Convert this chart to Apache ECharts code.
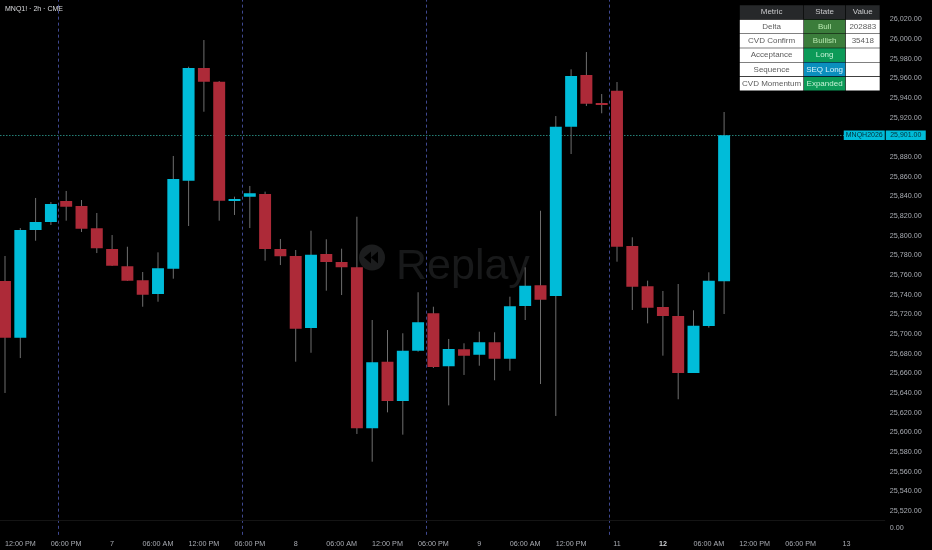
<!DOCTYPE html>
<html>
<head>
<meta charset="utf-8">
<style>html,body{margin:0;padding:0;background:#000}#c{width:932px;height:550px}</style>
<script src="https://cdn.jsdelivr.net/npm/echarts@6/dist/echarts.min.js"></script>
</head>
<body>
<div id="c"></div>
<script>
const opens = [25752.9,25695.2,25804.7,25812.8,25834.2,25829.1,25806.4,25785.4,25767.8,25753.6,
25739.6,25765.4,25854.8,25969.5,25955.5,25834.2,25838.6,25841.3,25785.4,25778.3,
25705.1,25780.3,25772.2,25766.8,25603.1,25670.8,25630.8,25682,25720,25666.1,
25683.4,25677.9,25690.5,25673.8,25727.4,25748.5,25737.6,25909.8,25962.3,25933.9,
25946.4,25788.4,25747.5,25726.4,25717.3,25659.3,25707.1,25752.6];
const closes = [25695.2,25804.7,25812.8,25831.2,25828.4,25806,25786.1,25768.4,25753.2,25738.9,
25765.8,25856.6,25969.5,25955.5,25834.5,25836.2,25842,25785.4,25778,25704.3,
25779.6,25772.2,25766.8,25603.1,25670.2,25630.8,25682,25710.9,25665.4,25683.7,
25676.9,25690.5,25673.8,25727.1,25748.1,25733.8,25909.8,25961.3,25933.1,25931.8,
25787.7,25747.1,25725.7,25717.3,25659.3,25707.4,25753.2,25901];
const lows = [25639,25674.5,25793.8,25809.8,25814.2,25802.7,25781.3,25768.1,25752.9,25726.7,
25731.8,25755.2,25808.8,25925,25814.2,25820,25806.7,25773.5,25769.1,25670.8,
25679.9,25743,25738.6,25597.3,25569.1,25619.3,25596.6,25681,25664.4,25626.4,
25657.3,25666.7,25651.9,25661.6,25713.2,25648.1,25615.6,25882,25930.8,25923.4,
25772.5,25723.4,25709.8,25676.9,25632.6,25659.3,25705.4,25719.3];
const highs = [25778.3,25806.7,25837.3,25833.2,25844.4,25835.2,25822,25799.6,25787.7,25762,
25782,25880,25970.8,25997.9,25956.2,25838.6,25849.5,25843.7,25795.6,25784.4,
25804,25795.3,25785.7,25818.2,25713.2,25703,25699.7,25741.4,25726.7,25693.9,
25689.5,25701.3,25700.7,25736.9,25766.8,25824.3,25920.6,25968.1,25985.7,25943,
25955.2,25797.3,25753.2,25742.7,25749.8,25723.1,25761.7,25924.7];
const timeLabels = ['','12:00 PM','','','06:00 PM','','','7','','','06:00 AM','','','12:00 PM','','','06:00 PM','','','8','',
'','06:00 AM','','','12:00 PM','','','06:00 PM','','','9','','','06:00 AM','','','12:00 PM','','','11','','','12','','',
'06:00 AM','','','12:00 PM','','','06:00 PM','','','13','',''];
const sessionStarts = [4,16,28,40];
const lastPrice = 25901;
const tableHeader = ['Metric','State','Value'];
const metrics = ['Delta','CVD Confirm','Acceptance','Sequence','CVD Momentum'];
const states = ['Bull','Bullish','Long','SEQ Long','Expanded'];
const values = ['202883','35418','','',''];

const stateFill = ['#3b7d3b','#3b7d3b','#0c9a58','#0a8fbe','#0c9a58'];
const stateInk = ['#b7e8b0','#b7e8b0','#c5f2d6','#d8f3fb','#c5f2d6'];
const UP = '#00bcd9', DOWN = '#ad2a38', WICK = '#6e6e6e';
const AXIS_TEXT = '#a9acb3', FONT = '"Liberation Sans", Arial, sans-serif';

const candles = opens.map((o, i) => [i, o, closes[i], lows[i], highs[i]]);

function renderCandle(params, api) {
  const i = api.value(0), o = api.value(1), c = api.value(2), l = api.value(3), h = api.value(4);
  const po = api.coord([i, o]), pc = api.coord([i, c]), pl = api.coord([i, l]), ph = api.coord([i, h]);
  const w = api.size([1, 0])[0] * 0.78;
  const top = Math.min(po[1], pc[1]), height = Math.max(Math.abs(po[1] - pc[1]), 1);
  return { type: 'group', children: [
    { type: 'line', shape: { x1: po[0], y1: ph[1], x2: po[0], y2: pl[1] }, style: { stroke: WICK, lineWidth: 1 } },
    { type: 'rect', shape: { x: po[0] - w / 2, y: top, width: w, height: height }, style: { fill: c >= o ? UP : DOWN } }
  ]};
}

// table
const tx = [739.5, 803.7, 845.5, 880], ty = 5, rh0 = 14.4, rh = 14.3;
const gfx = [];
function cell(x0, x1, y0, y1, fill, text, ink) {
  gfx.push({ type: 'rect', z: 100, silent: true, shape: { x: x0 + 0.3, y: y0 + 0.3, width: x1 - x0 - 0.6, height: y1 - y0 - 0.6 }, style: { fill } });
  if (text) gfx.push({ type: 'text', z: 101, silent: true, x: (x0 + x1) / 2, y: (y0 + y1) / 2, style: { text, fill: ink, font: '8px ' + FONT, align: 'center', verticalAlign: 'middle' } });
}
tableHeader.forEach((t, c) => cell(tx[c], tx[c + 1], ty, ty + rh0, '#26282a', t, '#c9cacc'));
metrics.forEach((m, r) => {
  const y0 = ty + rh0 + r * rh, y1 = y0 + rh;
  cell(tx[0], tx[1], y0, y1, '#ffffff', m, '#5c5c5c');
  cell(tx[1], tx[2], y0, y1, stateFill[r], states[r], stateInk[r]);
  cell(tx[2], tx[3], y0, y1, '#ffffff', values[r], '#5c5c5c');
});
// replay watermark
gfx.push({ type: 'circle', z: -1, silent: true, shape: { cx: 372, cy: 257.5, r: 13 }, style: { fill: '#1c1d1e' } });
gfx.push({ type: 'polygon', z: -1, silent: true, shape: { points: [[371, 251.5], [371, 263.5], [364, 257.5]] }, style: { fill: '#000' } });
gfx.push({ type: 'polygon', z: -1, silent: true, shape: { points: [[378, 251.5], [378, 263.5], [371, 257.5]] }, style: { fill: '#000' } });
gfx.push({ type: 'text', z: -1, silent: true, x: 396, y: 267, style: { text: 'Replay', fill: '#18191a', font: '43px ' + FONT, align: 'left', verticalAlign: 'middle' } });

const split = { show: true, showMaxLine: false, interval: (i) => sessionStarts.includes(i), lineStyle: { color: '#3f4890', type: [3, 3], width: 1 } };
const chart = echarts.init(document.getElementById('c'), null, { renderer: 'canvas' });
chart.setOption({
  animation: false,
  backgroundColor: '#000',
  title: { text: 'MNQ1! · 2h · CME', left: 5, top: 5.5, padding: 0, textStyle: { color: '#dcdde0', fontSize: 7, fontWeight: 'normal', fontFamily: FONT } },
  grid: [
    { left: -2.65, width: 887.4, top: -1.37, height: 521.2, show: false, outerBoundsMode: 'none', containLabel: false },
    { left: -2.65, width: 887.4, top: 519.83, height: 15.2, show: false, outerBoundsMode: 'none', containLabel: false }
  ],
  xAxis: [
    { type: 'category', gridIndex: 0, data: timeLabels, position: 'bottom',
      axisLine: { show: true, lineStyle: { color: '#141414', width: 1 } }, axisTick: { show: false }, axisLabel: { show: false }, splitLine: split },
    { type: 'category', gridIndex: 1, data: timeLabels, position: 'bottom',
      axisLine: { show: false }, axisTick: { show: false }, splitLine: split,
      axisLabel: { show: true, interval: 0, margin: 5, color: AXIS_TEXT, fontSize: 7.2, fontFamily: FONT,
        hideOverlap: false,
        formatter: (v) => v === '12' ? '{b|12}' : v,
        rich: { b: { fontWeight: 'bold', fontSize: 7.2, color: '#d0d2d6', fontFamily: FONT } } } }
  ],
  yAxis: [
    { type: 'value', gridIndex: 0, position: 'right', min: 25510, max: 26040, interval: 10, scale: true,
      axisLine: { show: false }, axisTick: { show: false }, splitLine: { show: false },
      axisLabel: { margin: 5, color: AXIS_TEXT, fontSize: 7.2, fontFamily: FONT, align: 'left', showMinLabel: false, showMaxLabel: false,
        formatter: (v) => (v % 20 === 0) ? '{p|' + v.toLocaleString('en-US', { minimumFractionDigits: 2, maximumFractionDigits: 2 }) + '}' : '',
        rich: { p: { fontSize: 7.2, color: AXIS_TEXT, fontFamily: FONT, padding: [2, 0, 0, 0] } } } },
    { type: 'value', gridIndex: 1, position: 'right', min: -1, max: 1.3, interval: 1,
      axisLine: { show: false }, axisTick: { show: false }, splitLine: { show: false },
      axisLabel: { margin: 5, color: AXIS_TEXT, fontSize: 7.2, fontFamily: FONT, align: 'left', showMaxLabel: false,
        formatter: (v) => v === 0 ? '0.00' : '' } }
  ],
  graphic: { elements: gfx },
  series: [{
    type: 'custom', name: 'MNQ1!', xAxisIndex: 0, yAxisIndex: 0, z: 2, clip: true,
    renderItem: renderCandle,
    encode: { x: 0, y: [1, 2, 3, 4] },
    data: candles,
    markLine: {
      silent: true, symbol: 'none', animation: false, z: 1,
      lineStyle: { color: '#38c0b4', type: [1, 2], width: 1 },
      label: { show: true, position: 'end', distance: 0, offset: [-41, 0],
        formatter: () => '{a|MNQH2026}{g|}{b|' + lastPrice.toLocaleString('en-US', { minimumFractionDigits: 2 }) + '}',
        rich: {
          a: { width: 41, height: 9.5, align: 'center', backgroundColor: UP, color: '#04303a', fontSize: 7, fontFamily: FONT },
          g: { width: 1, height: 9.5 },
          b: { width: 40, height: 9.5, align: 'center', backgroundColor: UP, color: '#04303a', fontSize: 7, fontFamily: FONT }
        } },
      data: [{ yAxis: lastPrice }]
    }
  }]
});
</script>
</body>
</html>
